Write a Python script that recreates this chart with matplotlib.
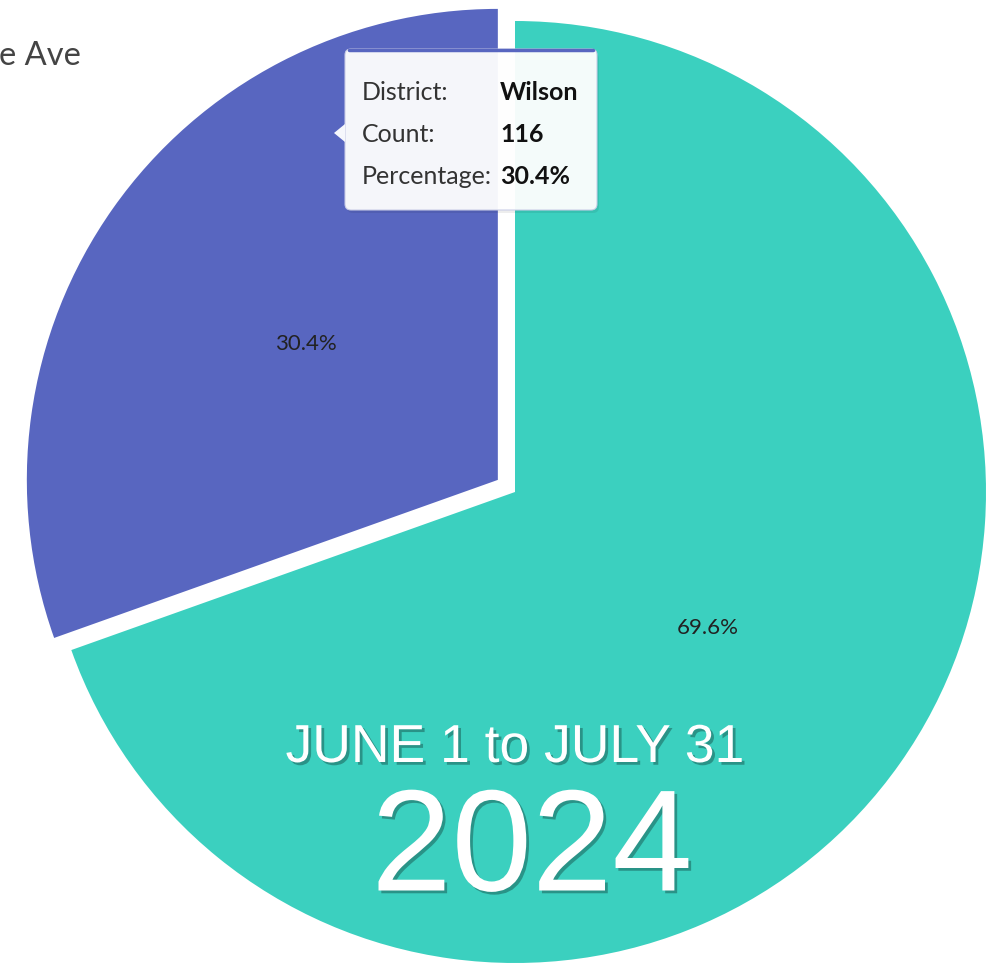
import matplotlib
matplotlib.use("Agg")
import matplotlib.pyplot as plt
import matplotlib.patheffects as pe
from matplotlib.patches import FancyBboxPatch, Polygon

# data
districts = ["Other", "Wilson"]
counts = [265, 116]
colors = ["#3BD0BF", "#5866C0"]

tip_keys = ["District:", "Count:", "Percentage:"]
tip_vals = ["Wilson", "116", "30.4%"]

W, H = 986, 964
fig = plt.figure(figsize=(W / 100, H / 100), dpi=100)
ax = fig.add_axes([0, 0, 1, 1])

cx, cy, r = 515, H - 492, 471
# explode is in data units here (pixels)
wedges, texts, autotexts = ax.pie(
    counts, colors=colors, explode=[0, 21], startangle=90, counterclock=False,
    center=(cx, cy), radius=r, autopct="%1.1f%%", pctdistance=0.5,
    textprops=dict(family="Lato", fontsize=16, color="#222222"),
    frame=True)
ax.set_xlim(0, W)
ax.set_ylim(0, H)
ax.set_aspect("equal")
ax.axis("off")

# cropped legend entry
ax.text(81, H - 56, "e Ave", ha="right", va="center", family="Lato",
        fontsize=23.5, color="#444444")

# tooltip
shadow = FancyBboxPatch((347, H - 213), 252, 160, boxstyle="round,pad=0,rounding_size=6",
                        fc="#000000", ec="none", alpha=0.07, zorder=4)
ax.add_patch(shadow)
box = FancyBboxPatch((345, H - 210), 252, 161, boxstyle="round,pad=0,rounding_size=6",
                     fc="white", ec="#C9CCE6", lw=0.8, alpha=0.95, zorder=5)
ax.add_patch(box)
ax.plot([349, 593], [H - 50, H - 50], color="#5866C0", lw=2.5, zorder=6,
        solid_capstyle="round")
ax.add_patch(Polygon([[334, H - 133], [345, H - 124], [345, H - 142]],
                     closed=True, fc="#F6F7FC", ec="none", zorder=6))
for i, (k, v) in enumerate(zip(tip_keys, tip_vals)):
    y = H - (92 + i * 42.5)
    ax.text(362, y, k, ha="left", va="center", family="Lato", fontsize=18,
            color="#333333", zorder=7)
    ax.text(500, y, v, ha="left", va="center", family="Lato", fontsize=18,
            fontweight="bold", color="#111111", zorder=7)

# date overlay
shade = [pe.SimplePatchShadow(offset=(2, -2), shadow_rgbFace="#1E6B63", alpha=0.6),
         pe.Normal()]
ax.text(515, H - 748, "JUNE 1 to JULY 31", ha="center", va="center",
        family="Liberation Sans", fontsize=38.5, color="white", path_effects=shade,
        zorder=8)
ax.text(532, H - 853, "2024", ha="center", va="center",
        family="Liberation Sans", fontsize=104, color="white", path_effects=shade,
        zorder=8)

fig.savefig("out.png", dpi=100)
